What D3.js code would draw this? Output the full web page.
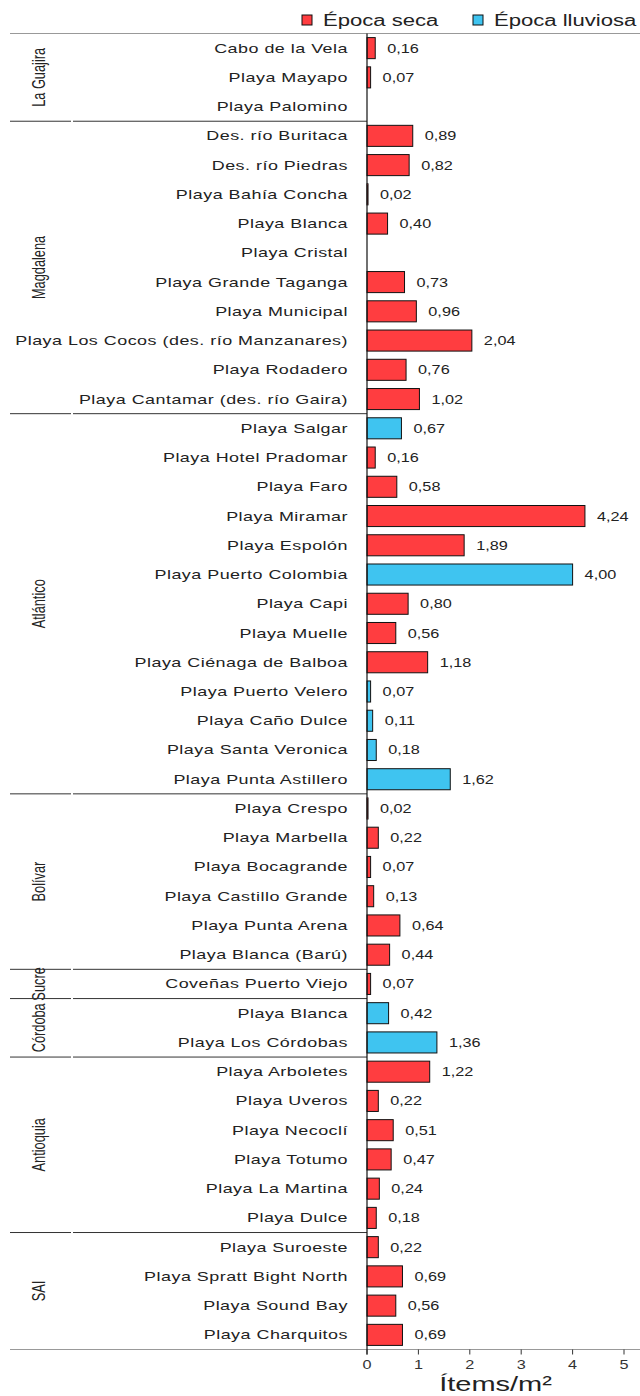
<!DOCTYPE html>
<html><head><meta charset="utf-8">
<script src="https://cdn.jsdelivr.net/npm/d3@7"></script>
<style>body{margin:0;background:#fff}svg{display:block}</style>
</head><body>
<script>
const categories = ["Cabo de la Vela","Playa Mayapo","Playa Palomino","Des. río Buritaca","Des. río Piedras","Playa Bahía Concha","Playa Blanca","Playa Cristal","Playa Grande Taganga","Playa Municipal","Playa Los Cocos (des. río Manzanares)","Playa Rodadero","Playa Cantamar (des. río Gaira)","Playa Salgar","Playa Hotel Pradomar","Playa Faro","Playa Miramar","Playa Espolón","Playa Puerto Colombia","Playa Capi","Playa Muelle","Playa Ciénaga de Balboa","Playa Puerto Velero","Playa Caño Dulce","Playa Santa Veronica","Playa Punta Astillero","Playa Crespo","Playa Marbella","Playa Bocagrande","Playa Castillo Grande","Playa Punta Arena","Playa Blanca (Barú)","Coveñas Puerto Viejo","Playa Blanca","Playa Los Córdobas","Playa Arboletes","Playa Uveros","Playa Necoclí","Playa Totumo","Playa La Martina","Playa Dulce","Playa Suroeste","Playa Spratt Bight North","Playa Sound Bay","Playa Charquitos"];
const values = [0.16,0.07,null,0.89,0.82,0.02,0.40,null,0.73,0.96,2.04,0.76,1.02,0.67,0.16,0.58,4.24,1.89,4.00,0.80,0.56,1.18,0.07,0.11,0.18,1.62,0.02,0.22,0.07,0.13,0.64,0.44,0.07,0.42,1.36,1.22,0.22,0.51,0.47,0.24,0.18,0.22,0.69,0.56,0.69];
const seasons = ["s","s","s","s","s","s","s","s","s","s","s","s","s","l","s","s","s","s","l","s","s","s","l","l","l","l","s","s","s","s","s","s","s","l","l","s","s","s","s","s","s","s","s","s","s"];
const groups = ["La Guajira","Magdalena","Atlántico","Bolívar","Sucre","Córdoba","Antioquia","SAI"];
const groupCounts = [3,10,13,6,1,2,6,4];
const seasonKeys = ["s","l"];
const seasonLabels = ["Época seca","Época lluviosa"];
const xTicks = [0,1,2,3,4,5];

(function(){
const W = 640, H = 1396, SX = 1.38;
const color = d3.scaleOrdinal(seasonKeys, ["#FF3D40","#3FC4F0"]);
const svg = d3.select("body").append("svg").attr("width",W).attr("height",H)
  .style("font-family","'Liberation Sans', Arial, sans-serif");

const x = d3.scaleLinear().domain([0,5]).range([367, 367+5*51.4]);
const y = d3.scaleBand().domain(d3.range(categories.length)).range([33.5,1349.5]).paddingInner(0.28).paddingOuter(0.14);
const step = y.step();
const y0 = y.range()[0], y1 = y.range()[1];

let cum = 0;
const bounds = [];
groupCounts.forEach((c,i)=>{ bounds.push({g:groups[i], s:cum, e:cum+c}); cum += c; });
bounds.forEach((b,i)=>{
  if(i>0){
    const yy = y0 + b.s*step;
    svg.append("line").attr("x1",10).attr("x2",71).attr("y1",yy).attr("y2",yy).attr("stroke","#333").attr("stroke-width",1);
    svg.append("line").attr("x1",73).attr("x2",367).attr("y1",yy).attr("y2",yy).attr("stroke","#333").attr("stroke-width",1);
  }
  const cy = y0 + (b.s+b.e)/2*step;
  svg.append("text").attr("transform",`translate(45,${cy}) scale(${SX},1) rotate(-90)`)
    .attr("text-anchor","middle").attr("font-size",12.8).attr("fill","#222").text(b.g);
});
svg.append("line").attr("x1",10).attr("x2",640).attr("y1",y0).attr("y2",y0).attr("stroke","#999");
svg.append("line").attr("x1",10).attr("x2",640).attr("y1",y1).attr("y2",y1).attr("stroke","#999");

const idx = d3.range(categories.length);
svg.append("g").selectAll("rect").data(idx.filter(i=>values[i]!=null)).join("rect")
  .attr("x",x(0)).attr("y",i=>y(i)).attr("height",y.bandwidth())
  .attr("width",i=>x(values[i])-x(0))
  .attr("fill",i=>color(seasons[i])).attr("stroke","#111").attr("stroke-width",1);

svg.append("g").selectAll("text").data(idx.filter(i=>values[i]!=null)).join("text")
  .attr("transform",i=>`translate(${x(values[i])+12},${y(i)+y.bandwidth()/2+4.5}) scale(1.3,1)`)
  .attr("font-size",12.5).attr("fill","#222")
  .text(i=>values[i].toFixed(2).replace(".",","));

svg.append("g").selectAll("text").data(idx).join("text")
  .attr("transform",i=>`translate(348,${y(i)+y.bandwidth()/2+4.5}) scale(${SX},1)`)
  .attr("text-anchor","end").attr("font-size",13).attr("letter-spacing",0.35).attr("fill","#222")
  .text(i=>categories[i]);

svg.append("line").attr("x1",x(0)).attr("x2",x(0)).attr("y1",y0).attr("y2",y1+5).attr("stroke","#111").attr("stroke-width",1.2);
const ax = svg.append("g");
xTicks.forEach(t=>{
  ax.append("line").attr("x1",x(t)).attr("x2",x(t)).attr("y1",y1).attr("y2",y1+5).attr("stroke","#333");
  ax.append("text").attr("transform",`translate(${x(t)},${y1+19}) scale(1.3,1)`).attr("text-anchor","middle")
    .attr("font-size",12.5).attr("fill","#333").text(d3.format("d")(t));
});
svg.append("text").attr("transform",`translate(${x(2.5)},1391) scale(${SX},1)`).attr("text-anchor","middle")
  .attr("font-size",21).attr("fill","#222").text("Ítems/m²");

const legX = [302, 473];
seasonKeys.forEach((k,i)=>{
  svg.append("rect").attr("x",legX[i]).attr("y",15).attr("width",10).attr("height",10)
    .attr("fill",color(k)).attr("stroke","#111").attr("stroke-width",1);
  svg.append("text").attr("transform",`translate(${legX[i]+21},26) scale(${SX},1)`)
    .attr("font-size",16).attr("fill","#222").text(seasonLabels[i]);
});
})();
</script>
</body></html>
